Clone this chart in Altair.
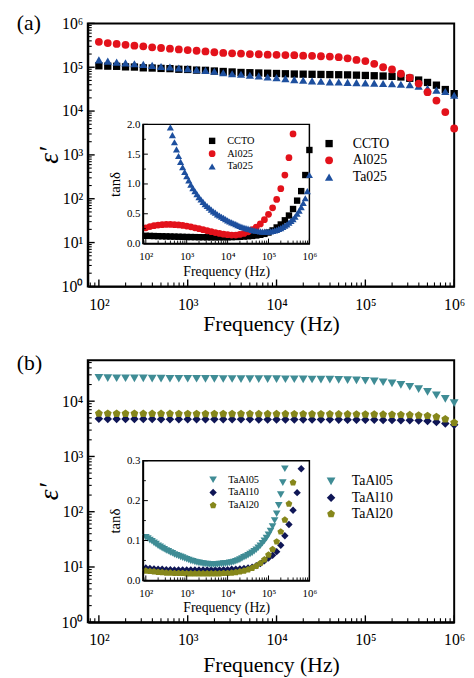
import altair as alt
import pandas as pd

FONT = "Liberation Serif"

# ---------------- data (log10 of frequency in Hz for every measured point) ----------------
EXP = [2.0, 2.1, 2.2, 2.3, 2.4, 2.5, 2.6, 2.7, 2.8, 2.9,
       3.0, 3.1, 3.2, 3.3, 3.4, 3.5, 3.6, 3.7, 3.8, 3.9,
       4.0, 4.1, 4.2, 4.3, 4.4, 4.5, 4.6, 4.7, 4.8, 4.9,
       5.0, 5.1, 5.2, 5.3, 5.4, 5.5, 5.6, 5.7, 5.8, 5.9, 6.0]

EXP_TA025_INSET = [2.60, 2.65, 2.70, 2.75, 2.80, 2.85, 2.90, 2.95,
                   3.00, 3.05, 3.10, 3.15, 3.20, 3.25, 3.30, 3.35, 3.40, 3.45, 3.50, 3.55,
                   3.60, 3.65, 3.70, 3.75, 3.80, 3.85, 3.90, 3.95,
                   4.00, 4.05, 4.10, 4.15, 4.20, 4.25, 4.30, 4.35, 4.40, 4.45, 4.50, 4.55,
                   4.60, 4.65, 4.70, 4.75, 4.80, 4.85, 4.90, 4.95,
                   5.00, 5.05, 5.10, 5.15, 5.20, 5.25, 5.30, 5.35, 5.40, 5.45, 5.50, 5.55,
                   5.60, 5.65, 5.70, 5.75, 5.80, 5.85, 5.90, 5.95, 6.00]

EXP_TAAL05_INSET = [2.00, 2.05, 2.10, 2.15, 2.20, 2.25, 2.30, 2.35, 2.40, 2.45,
                    2.50, 2.55, 2.60, 2.65, 2.70, 2.75, 2.80, 2.85, 2.90, 2.95,
                    3.00, 3.05, 3.10, 3.15, 3.20, 3.25, 3.30, 3.35, 3.40, 3.45,
                    3.50, 3.55, 3.60, 3.65, 3.70, 3.75, 3.80, 3.85, 3.90, 3.95,
                    4.00, 4.05, 4.10, 4.15, 4.20, 4.25, 4.30, 4.35, 4.40, 4.45,
                    4.50, 4.55, 4.60, 4.65, 4.70, 4.75, 4.80, 4.85, 4.90, 4.95,
                    5.00, 5.05, 5.10, 5.15, 5.20, 5.25, 5.30, 5.35, 5.40]

# (a) main: epsilon'
CCTO_EPS = [1.08e5, 1.06e5, 1.05e5, 1.02e5, 1.01e5, 9.7e4, 9.6e4, 9.4e4, 9.3e4, 9.0e4,
            8.9e4, 8.6e4, 8.5e4, 8.2e4, 8.0e4, 7.8e4, 7.6e4, 7.5e4, 7.4e4, 7.3e4,
            7.2e4, 7.1e4, 7.0e4, 6.95e4, 6.9e4, 6.85e4, 6.8e4, 6.75e4, 6.7e4, 6.6e4,
            6.5e4, 6.4e4, 6.3e4, 6.2e4, 6.0e4, 5.6e4, 5.1e4, 4.5e4, 3.9e4, 3.1e4, 2.5e4]
AL025_EPS = [3.8e5, 3.55e5, 3.4e5, 3.25e5, 3.1e5, 3.0e5, 2.85e5, 2.75e5, 2.65e5, 2.55e5,
             2.47e5, 2.38e5, 2.3e5, 2.2e5, 2.12e5, 2.08e5, 2.05e5, 2.0e5, 1.98e5, 1.94e5,
             1.92e5, 1.9e5, 1.88e5, 1.84e5, 1.82e5, 1.78e5, 1.75e5, 1.7e5, 1.6e5, 1.47e5,
             1.38e5, 1.2e5, 1.0e5, 8.9e4, 7.1e4, 5.8e4, 4.25e4, 2.7e4, 1.74e4, 9.5e3, 4.0e3]
TA025_EPS = [1.47e5, 1.38e5, 1.31e5, 1.26e5, 1.2e5, 1.16e5, 1.1e5, 1.04e5, 1.01e5, 9.6e4,
             9.3e4, 8.8e4, 8.5e4, 8.1e4, 7.5e4, 7.1e4, 6.9e4, 6.55e4, 6.35e4, 6.0e4,
             5.8e4, 5.5e4, 5.2e4, 5.05e4, 4.9e4, 4.8e4, 4.65e4, 4.6e4, 4.5e4, 4.45e4,
             4.4e4, 4.35e4, 4.25e4, 4.2e4, 4.1e4, 4.0e4, 3.7e4, 3.3e4, 3.0e4, 2.8e4, 2.3e4]

# (a) inset: tan(delta)
CCTO_TAN = [0.130, 0.128, 0.126, 0.124, 0.122, 0.120, 0.118, 0.116, 0.114, 0.112,
            0.110, 0.109, 0.108, 0.107, 0.106, 0.105, 0.105, 0.105, 0.105, 0.105,
            0.106, 0.108, 0.110, 0.113, 0.117, 0.122, 0.128, 0.136, 0.147, 0.162,
            0.185, 0.22, 0.27, 0.32, 0.39, 0.47, 0.58, 0.72, 0.88, 1.15, 1.57]
AL025_TAN = [0.265, 0.285, 0.300, 0.310, 0.317, 0.320, 0.320, 0.317, 0.312, 0.304,
             0.293, 0.280, 0.265, 0.250, 0.233, 0.216, 0.200, 0.184, 0.170, 0.158,
             0.148, 0.142, 0.143, 0.152, 0.170, 0.197, 0.232, 0.275, 0.33, 0.40,
             0.49, 0.60, 0.74, 0.92, 1.15, 1.44, 1.84]
TA025_TAN = [1.95, 1.82, 1.70, 1.58, 1.47, 1.37, 1.28, 1.20,
             1.13, 1.06, 0.99, 0.93, 0.88, 0.83, 0.78, 0.74, 0.70, 0.66, 0.63, 0.60,
             0.57, 0.54, 0.52, 0.49, 0.47, 0.45, 0.43, 0.41,
             0.39, 0.37, 0.355, 0.34, 0.325, 0.31, 0.295, 0.28, 0.27, 0.26, 0.25, 0.24,
             0.23, 0.22, 0.215, 0.21, 0.205, 0.20, 0.20, 0.20,
             0.20, 0.205, 0.21, 0.22, 0.23, 0.245, 0.26, 0.28, 0.30, 0.32, 0.35, 0.38,
             0.41, 0.45, 0.50, 0.55, 0.61, 0.68, 0.76, 0.88, 1.15]

# (b) main: epsilon'
TAAL05_EPS = [2.65e4, 2.62e4, 2.6e4, 2.6e4, 2.58e4, 2.58e4, 2.56e4, 2.56e4, 2.55e4, 2.55e4,
              2.54e4, 2.54e4, 2.53e4, 2.53e4, 2.52e4, 2.52e4, 2.51e4, 2.51e4, 2.5e4, 2.5e4,
              2.5e4, 2.49e4, 2.49e4, 2.48e4, 2.47e4, 2.46e4, 2.45e4, 2.43e4, 2.41e4, 2.38e4,
              2.34e4, 2.28e4, 2.2e4, 2.1e4, 1.97e4, 1.82e4, 1.65e4, 1.47e4, 1.28e4, 1.1e4, 9.2e3]
TAAL10_EPS = [4.80e3, 4.78e3, 4.77e3, 4.76e3, 4.75e3, 4.74e3, 4.74e3, 4.73e3, 4.73e3, 4.72e3,
              4.72e3, 4.71e3, 4.71e3, 4.70e3, 4.70e3, 4.70e3, 4.69e3, 4.69e3, 4.68e3, 4.68e3,
              4.68e3, 4.67e3, 4.67e3, 4.66e3, 4.66e3, 4.65e3, 4.65e3, 4.64e3, 4.63e3, 4.62e3,
              4.61e3, 4.60e3, 4.58e3, 4.56e3, 4.54e3, 4.52e3, 4.47e3, 4.36e3, 4.2e3, 3.95e3, 3.75e3]
TAAL20_EPS = [6.0e3, 5.98e3, 5.97e3, 5.96e3, 5.95e3, 5.94e3, 5.94e3, 5.93e3, 5.93e3, 5.92e3,
              5.92e3, 5.91e3, 5.91e3, 5.9e3, 5.9e3, 5.9e3, 5.89e3, 5.89e3, 5.88e3, 5.88e3,
              5.87e3, 5.87e3, 5.86e3, 5.86e3, 5.85e3, 5.84e3, 5.83e3, 5.82e3, 5.81e3, 5.8e3,
              5.79e3, 5.77e3, 5.75e3, 5.72e3, 5.68e3, 5.63e3, 5.55e3, 5.45e3, 5.2e3, 4.75e3, 4.1e3]

# (b) inset: tan(delta)
TAAL05_TAN = [0.108, 0.105, 0.101, 0.098, 0.094, 0.091, 0.087, 0.084, 0.081, 0.078,
              0.075, 0.073, 0.070, 0.068, 0.065, 0.063, 0.061, 0.059, 0.057, 0.055,
              0.053, 0.051, 0.049, 0.048, 0.046, 0.045, 0.044, 0.043, 0.042, 0.041,
              0.041, 0.040, 0.040, 0.040, 0.040, 0.040, 0.041, 0.041, 0.042, 0.042,
              0.043, 0.044, 0.045, 0.046, 0.048, 0.050, 0.052, 0.055, 0.058, 0.060,
              0.063, 0.066, 0.069, 0.073, 0.077, 0.082, 0.087, 0.093, 0.099, 0.106,
              0.114, 0.124, 0.135, 0.150, 0.167, 0.188, 0.215, 0.245, 0.280]
TAAL10_TAN = [0.031, 0.030, 0.029, 0.028, 0.028, 0.027, 0.027, 0.026, 0.026, 0.026,
              0.026, 0.026, 0.026, 0.026, 0.026, 0.026, 0.026, 0.026, 0.026, 0.027,
              0.027, 0.028, 0.028, 0.029, 0.030, 0.031, 0.033, 0.037, 0.042, 0.049,
              0.056, 0.063, 0.072, 0.088, 0.112, 0.140, 0.176, 0.220, 0.280]
TAAL20_TAN = [0.024, 0.023, 0.022, 0.021, 0.020, 0.019, 0.019, 0.018, 0.018, 0.018,
              0.017, 0.017, 0.017, 0.017, 0.017, 0.017, 0.017, 0.017, 0.017, 0.018,
              0.018, 0.019, 0.020, 0.022, 0.024, 0.027, 0.031, 0.036, 0.043, 0.052,
              0.064, 0.078, 0.097, 0.122, 0.152, 0.192, 0.245]

SAMPLES_A = ["CCTO", "Al025", "Ta025"]
COLORS_A = ["#000000", "#e3121b", "#1d4f9e"]
SHAPES_A = ["square", "circle", "triangle-up"]
SAMPLES_B = ["TaAl05", "TaAl10", "TaAl20"]
COLORS_B = ["#3f8c95", "#0f1656", "#86871b"]
PENTAGON = "M0,-1L0.951,-0.309L0.588,0.809L-0.588,0.809L-0.951,-0.309Z"
SHAPES_B = ["triangle-down", "diamond", PENTAGON]

# tick positions
DECADES = [1e2, 1e3, 1e4, 1e5, 1e6]
X_MINOR_MAIN = [80, 90] + [m * 10 ** k for k in range(2, 6) for m in range(2, 10)]
X_MINOR_INSET = [90] + [m * 10 ** k for k in range(2, 6) for m in range(2, 10)]
Y_MAJOR_A = [1, 10, 100, 1e3, 1e4, 1e5, 1e6]
Y_MINOR_A = [m * 10 ** k for k in range(0, 6) for m in range(2, 10)]
Y_MAJOR_B = [1, 10, 100, 1e3, 1e4]
Y_MINOR_B = [m * 10 ** k for k in range(0, 4) for m in range(2, 10)] + [2e4, 3e4, 4e4, 5e4]
Y_MAJOR_IN_A = [0.0, 0.5, 1.0, 1.5, 2.0]
Y_MINOR_IN_A = [0.25, 0.75, 1.25, 1.75]
Y_MAJOR_IN_B = [0.0, 0.1, 0.2, 0.3]
Y_MINOR_IN_B = [0.05, 0.15, 0.25]

LOGV = "(log(datum.value)/LN10)"
LOG_LABEL = "'10' + ['⁰','¹','²','³','⁴','⁵','⁶'][round(" + LOGV + ")]"
DEC_LABEL = "format(datum.value, '.1f')"


def frame(exps, vals, name):
    return pd.DataFrame({"f": [10 ** e for e in exps[:len(vals)]], "v": vals, "sample": name})


def axis(orient, title, values, label_expr, label_size, title_size, label_pad, title_pad,
         offset=0, domain_w=2.0, title_style="normal"):
    return alt.Axis(orient=orient, title=title, values=values, labelExpr=label_expr,
                    ticks=False, labelFontSize=label_size, titleFontSize=title_size,
                    labelPadding=label_pad, titlePadding=title_pad, offset=offset,
                    domainWidth=domain_w, titleFontStyle=title_style, labelFlush=False,
                    labelOverlap=False, grid=False, labelFont=FONT, titleFont=FONT,
                    titleFontWeight="normal", domainColor="black", labelColor="black",
                    titleColor="black", zindex=1)


def legend(x, y, size, font_size, row_pad, label_off):
    return alt.Legend(orient="none", legendX=x, legendY=y, title=None, labelFont=FONT,
                      labelFontSize=font_size, symbolSize=size, rowPadding=row_pad,
                      labelOffset=label_off, padding=0, symbolStrokeWidth=0,
                      symbolOpacity=1, labelColor="black")


def points(df, xs, ys, xaxis, yaxis, samples, colors, shapes, sizes, leg):
    return alt.Chart(df).mark_point(filled=True, opacity=1, strokeWidth=0).encode(
        x=alt.X("f:Q", scale=xs, axis=xaxis),
        y=alt.Y("v:Q", scale=ys, axis=yaxis),
        color=alt.Color("sample:N", scale=alt.Scale(domain=samples, range=colors), legend=leg),
        shape=alt.Shape("sample:N", scale=alt.Scale(domain=samples, range=shapes), legend=leg),
        size=alt.Size("sample:N", scale=alt.Scale(domain=samples, range=sizes), legend=None),
    )


def xticks(vals, xs, y0, length, w):
    return alt.Chart(pd.DataFrame({"t": vals})).mark_rule(color="black", strokeWidth=w).encode(
        x=alt.X("t:Q", scale=xs, axis=None), y=alt.value(y0), y2=alt.value(y0 - length))


def yticks(vals, ys, x0, length, w):
    return alt.Chart(pd.DataFrame({"t": vals})).mark_rule(color="black", strokeWidth=w).encode(
        y=alt.Y("t:Q", scale=ys, axis=None), x=alt.value(x0), x2=alt.value(x0 + length))


def box(x0, x1, y0, y1):
    return alt.Chart(pd.DataFrame({"k": [0]})).mark_rect(
        fill="white", stroke="black", strokeWidth=1.5).encode(
        x=alt.value(x0), x2=alt.value(x1), y=alt.value(y0), y2=alt.value(y1))


def panel_label(text, y):
    return alt.Chart(pd.DataFrame({"t": [text]})).mark_text(
        font=FONT, fontSize=22, align="left", baseline="top", color="black").encode(
        text="t:N", x=alt.value(-72), y=alt.value(y))


W = 372
H_A, H_B = 267, 266
IN_X0, IN_X1 = 56, 225
XS_MAIN = alt.Scale(type="log", domain=[75, 1e6], nice=False)
XS_IN = alt.Scale(type="log", domain=[85, 1e6], range=[IN_X0, IN_X1], nice=False)


def build_panel(label, label_y, H, x_title_pad, ys_main, y_major, y_minor, df_main, samples,
                colors, shapes, main_sizes, main_leg, in_top, in_bottom, ys_in, yin_major,
                yin_minor, df_in, in_sizes, in_leg):
    layers = [
        points(df_main, XS_MAIN, ys_main,
               axis("bottom", "Frequency (Hz)", DECADES, LOG_LABEL, 16, 22, 10, x_title_pad),
               axis("left", "ε′", y_major, LOG_LABEL, 16, 28, 5, -2, title_style="italic"),
               samples, colors, shapes, main_sizes, main_leg),
        xticks(DECADES, XS_MAIN, H, 7, 1.4),
        xticks(X_MINOR_MAIN, XS_MAIN, H, 4, 1.1),
        yticks(y_major, ys_main, 0, 7, 1.4),
        yticks(y_minor, ys_main, 0, 4, 1.1),
        panel_label(label, label_y),
        box(IN_X0, IN_X1, in_top, in_bottom),
        points(df_in, XS_IN, ys_in,
               axis("bottom", "Frequency (Hz)", DECADES, LOG_LABEL, 11, 14, 7, 3,
                    offset=-(H - in_bottom), domain_w=1.5),
               axis("left", "tanδ", yin_major, DEC_LABEL, 11, 15, 3, 4,
                    offset=-IN_X0, domain_w=1.5),
               samples, colors, shapes, in_sizes, in_leg),
        xticks(DECADES, XS_IN, in_bottom, 5, 1.0),
        xticks(X_MINOR_INSET, XS_IN, in_bottom, 3, 0.9),
        yticks(yin_major, ys_in, IN_X0, 5, 1.0),
        yticks(yin_minor, ys_in, IN_X0, 3, 0.9),
    ]
    return alt.layer(*layers).resolve_scale(
        x="independent", y="independent", color="independent", shape="independent",
        size="independent").properties(width=W, height=H)


# ---------------- panel (a) ----------------
df_main_a = pd.concat([frame(EXP, CCTO_EPS, "CCTO"), frame(EXP, TA025_EPS, "Ta025"),
                       frame(EXP, AL025_EPS, "Al025")])
df_in_a = pd.concat([frame(EXP, CCTO_TAN, "CCTO"), frame(EXP, AL025_TAN, "Al025"),
                     frame(EXP_TA025_INSET, TA025_TAN, "Ta025")])
panel_a = build_panel(
    "(a)", -10.5, H_A, 2, alt.Scale(type="log", domain=[1, 1e6], nice=False), Y_MAJOR_A, Y_MINOR_A,
    df_main_a, SAMPLES_A, COLORS_A, SHAPES_A, [55, 70, 80], legend(238, 115, 60, 14, 3, 17),
    102.5, 223.5, alt.Scale(type="linear", domain=[0, 2.0], range=[223.5, 102.5], nice=False, zero=False),
    Y_MAJOR_IN_A, Y_MINOR_IN_A, df_in_a, [42, 52, 62], legend(121, 114, 45, 10.5, 2, 10))

# ---------------- panel (b) ----------------
df_main_b = pd.concat([frame(EXP, TAAL10_EPS, "TaAl10"), frame(EXP, TAAL20_EPS, "TaAl20"),
                       frame(EXP, TAAL05_EPS, "TaAl05")])
df_in_b = pd.concat([frame(EXP, TAAL10_TAN, "TaAl10"), frame(EXP, TAAL20_TAN, "TaAl20"),
                     frame(EXP_TAAL05_INSET, TAAL05_TAN, "TaAl05")])
panel_b = build_panel(
    "(b)", -7, H_B, 7, alt.Scale(type="log", domain=[1, 5.5e4], nice=False), Y_MAJOR_B, Y_MINOR_B,
    df_main_b, SAMPLES_B, COLORS_B, SHAPES_B, [80, 70, 90], legend(240, 116, 60, 14, 2.5, 14),
    102, 223.5, alt.Scale(type="linear", domain=[0, 0.3], range=[223.5, 102], nice=False, zero=False),
    Y_MAJOR_IN_B, Y_MINOR_IN_B, df_in_b, [60, 52, 70], legend(122, 116, 50, 10.5, 2, 10))

chart = alt.vconcat(panel_a, panel_b, spacing=16).properties(
    padding={"left": 8, "top": -2.5, "right": 0, "bottom": 0}
).configure(font=FONT).configure_view(stroke="black", strokeWidth=2)

chart.save("out.html", embed_options={"renderer": "svg", "actions": False})
